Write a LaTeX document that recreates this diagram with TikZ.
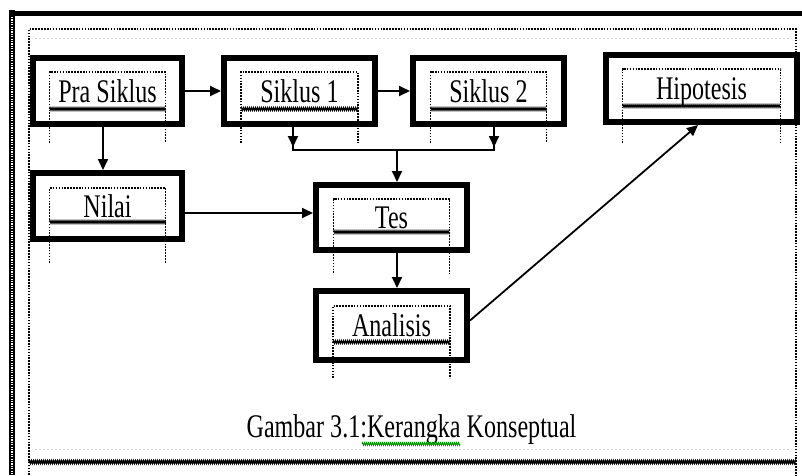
\documentclass[tikz,border=0pt]{standalone}
\usepackage{fontspec}
\usepackage{graphicx}
\setmainfont{Liberation Serif}
\usetikzlibrary{arrows.meta,calc,decorations.pathmorphing}
\newcommand\squish[1]{\scalebox{0.73}[1]{#1}}
\newcommand\tbox[5]{%
  \draw[dots] ($(#1.center)+(-#2,#5)$) -- ($(#1.center)+(-#2,#3)$) -- ($(#1.center)+(#2,#3)$) -- ($(#1.center)+(#2,#5)$);
  \draw[wave] ($(#1.center)+(-#2,#4)$) -- ($(#1.center)+(#2,#4)$);}
\begin{document}
\begin{tikzpicture}[x=1pt,y=-1pt,
  box/.style={draw=black,line width=6pt,minimum width=149pt,minimum height=66pt,inner sep=0pt,
    text height=22pt,text depth=0pt,font=\fontsize{33}{33}\selectfont},
  dots/.style={line width=1.8pt,dash pattern=on 1.6pt off 1.3pt},
  wave/.style={line width=1.2pt,decorate,decoration={zigzag,segment length=2pt,amplitude=1.3pt}},
  arr/.style={line width=1.8pt,-{Triangle[length=11pt,width=10pt]}},
  ln/.style={line width=1.8pt}]
\useasboundingbox (0,0) rectangle (802,475);
% page frame
\draw[line width=5pt] (10,13) -- (802,13);
\draw[line width=6pt] (12,10) -- (12,475);
\draw[white,line width=2pt,dash pattern=on 1.2pt off 1.2pt] (12,17) -- (12,475);
\draw[dots,line width=1.5pt] (29,475) -- (29,29) -- (796,29) -- (796,475);
\draw[wave,line width=1.4pt] (29,462) -- (796,462);
\draw[gray!35,dash pattern=on 2pt off 2pt] (35,38) -- (790,38);
\draw[gray!35,dash pattern=on 2pt off 2pt] (35,449) -- (790,449);
% boxes
\node[box] (ps) at (107.5,91) {\squish{Pra Siklus}};
\node[box,minimum width=151pt] (s1) at (299.5,91) {\squish{Siklus 1}};
\node[box,minimum width=151pt] (s2) at (488.5,91) {\squish{Siklus 2}};
\node[box,minimum width=191pt,minimum height=67pt] (hip) at (701.5,88.5) {\squish{Hipotesis}};
\node[box] (nil) at (107.5,206) {\squish{Nilai}};
\node[box,minimum width=151pt,minimum height=65pt] (tes) at (391.5,217.5) {\squish{Tes}};
\node[box,minimum width=151pt,minimum height=69pt] (ana) at (391.5,325.5) {\squish{Analisis}};
% inner text frames
\tbox{ps}{58}{-19}{18}{52}
\tbox{s1}{58.5}{-19}{18}{52}
\tbox{s2}{58}{-19}{18}{52}
\tbox{hip}{79}{-19.5}{17.5}{54.5}
\tbox{nil}{58}{-18}{16}{57}
\tbox{tes}{58}{-18.5}{14.5}{55.5}
\tbox{ana}{58.5}{-19.5}{16.5}{52.5}
% connectors
\draw[arr] (ps.east) -- (s1.west);
\draw[arr] (s1.east) -- (s2.west);
\draw[arr] ([xshift=-4.5pt]ps.south) -- ([xshift=-4.5pt]nil.north);
\coordinate (j1) at (293,150);
\coordinate (j2) at (494,150);
\coordinate (jm) at (397,150);
\draw[ln] (j1 |- s1.south) -- (j1) -- (j2) -- (j2 |- s2.south);
\draw[arr] (j1 |- s1.south) -- ([yshift=3pt]j1);
\draw[arr] (j2 |- s2.south) -- ([yshift=3pt]j2);
\draw[arr] (jm) -- (jm |- tes.north);
\draw[arr] ([yshift=-7pt]nil.east) -- ([yshift=-7pt]nil.east -| tes.west);
\draw[arr] (jm |- tes.south) -- (jm |- ana.north);
\draw[arr] ([yshift=5pt]ana.east) -- ([xshift=-3.5pt]hip.south);
% caption
\node[anchor=base,inner sep=0pt,font=\fontsize{33}{33}\selectfont] (cap) at (411.5,437) {\squish{Gambar 3.1:Kerangka Konseptual}};
\draw[green!60!black,wave,line width=0.9pt] (362,444) -- (460,444);
\end{tikzpicture}
\end{document}
